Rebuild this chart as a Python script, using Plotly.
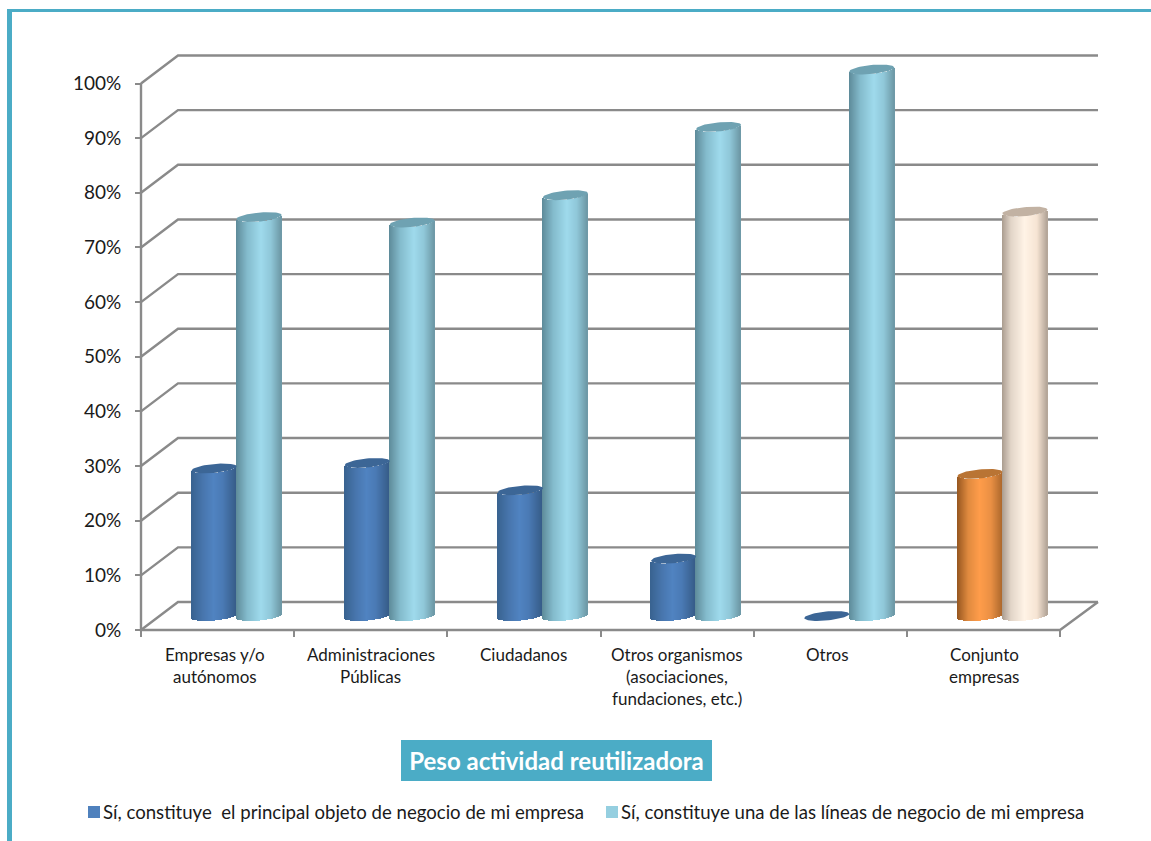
import numpy as np
import plotly.graph_objects as go

# ---------- data ----------
category_lines = [
    ["Empresas y/o", "autónomos"],
    ["Administraciones", "Públicas"],
    ["Ciudadanos"],
    ["Otros organismos", "(asociaciones,", "fundaciones, etc.)"],
    ["Otros"],
    ["Conjunto", "empresas"],
]
principal = [27, 28, 23, 10.5, 0, 26]
linea = [73, 72, 77, 89.5, 100, 74]
y_ticks = [0, 10, 20, 30, 40, 50, 60, 70, 80, 90, 100]
y_labels = [f"{v}%" for v in y_ticks]
name_principal = "Sí, constituye\u00a0 el principal objeto de negocio de mi empresa"
name_linea = "Sí, constituye una de las líneas de negocio de mi empresa"
title_text = "Peso actividad reutilizadora"

# ---------- styles ----------
W, H = 1151, 841
TEAL = "#4bacc6"
GRID = "#8a8a8a"
FONT = "Lato"
LEG_BLUE, LEG_LIGHT = "#4f81bd", "#95cfe0"
STOPS_BLUE = [(-1, "#38628f"), (-.45, "#4876ae"), (0, "#5083c1"), (.4, "#4a7ab5"), (1, "#365c88")]
STOPS_LIGHT = [(-1, "#5d8a99"), (-.5, "#84bbcc"), (.1, "#9fdaec"), (.55, "#8fc7d8"), (1, "#6d98a6")]
STOPS_ORANGE = [(-1, "#96561f"), (-.5, "#e08a3f"), (0, "#ff9c4a"), (.5, "#ea9044"), (1, "#ad682c")]
STOPS_CREAM = [(-1, "#aa9c8f"), (-.6, "#e2d5c8"), (0, "#fff3e6"), (.55, "#f6e4d3"), (1, "#b2a497")]
TOP_BLUE, TOP_LIGHT, TOP_ORANGE, TOP_CREAM = "#3c6696", "#6fa2b2", "#b97434", "#c2b2a3"
TOTAL_INDEX = len(principal) - 1
LABEL_NUDGE = [-3, 0, 0, 0, -3, 1]

# axis geometry (pixels)
X0, CAT_W = 141.0, 153.17
Y0, PX_PER_PCT = 630.0, 5.465
DEPTH_X, DEPTH_Y = 37.0, 28.0
L, R, T, B = 125, 1106, 45, 640
BAR_W = 45.0
STRIPS = 45
TILT, ELL_B = 0.09, 4.5


def px2x(p):
    return (p - X0) / CAT_W


def dy(p):
    return p / PX_PER_PCT


def mix(stops, u):
    us = [s[0] for s in stops]
    rgb = [[int(s[1][i:i + 2], 16) for s in stops] for i in (1, 3, 5)]
    return "rgb(%d,%d,%d)" % tuple(round(float(np.interp(u, us, c))) for c in rgb)


n = len(principal)
dep_x, dep_y = DEPTH_X / CAT_W, dy(DEPTH_Y)
mid_x, mid_y = (DEPTH_X / 2 + 0.5) / CAT_W, dy(14)
bw = BAR_W / CAT_W
centers = np.arange(n) + 0.5 + mid_x
right_back = px2x(1098)

fig = go.Figure()


def add_cylinders(values, offset, stops, total_stops):
    vals = np.array(values, float)
    for i in range(STRIPS):
        u = -1 + (i + .5) * 2 / STRIPS
        front = dy(TILT * BAR_W / 2 * u - ELL_B * np.sqrt(1 - u * u))
        colors = [mix(total_stops if k == TOTAL_INDEX else stops, u) for k in range(n)]
        fig.add_trace(go.Bar(
            x=centers + offset + u * bw / 2,
            y=vals,
            base=mid_y + front,
            width=bw / STRIPS * 1.35,
            marker=dict(color=colors, line=dict(width=0)),
            showlegend=False, hoverinfo="skip",
        ))


add_cylinders(principal, -bw / 2, STOPS_BLUE, STOPS_ORANGE)
add_cylinders(linea, bw / 2, STOPS_LIGHT, STOPS_CREAM)


def add_tops(values, offset, color, total_color):
    t = np.linspace(0, 2 * np.pi, 60)
    for k, v in enumerate(values):
        cu = np.cos(t)
        xs = centers[k] + offset + cu * bw / 2
        ys = mid_y + v + dy(TILT * BAR_W / 2 * cu + ELL_B * np.sin(t))
        fig.add_trace(go.Scatter(
            x=xs, y=ys, mode="lines", fill="toself",
            fillcolor=total_color if k == TOTAL_INDEX else color,
            line=dict(width=0), showlegend=False, hoverinfo="skip",
        ))


add_tops(principal, -bw / 2, TOP_BLUE, TOP_ORANGE)
add_tops(linea, bw / 2, TOP_LIGHT, TOP_CREAM)

# legend entries: native text, swatches placed tight against the text as in the reference
fig.add_trace(go.Scatter(x=[None], y=[None], mode="markers", name=name_principal,
                         marker=dict(symbol="square", size=12, color="rgba(0,0,0,0)")))
fig.add_trace(go.Scatter(x=[None], y=[None], mode="markers", name=name_linea,
                         marker=dict(symbol="square", size=12, color="rgba(0,0,0,0)")))

# 3-D walls: gridlines, floor, axis
shapes = []
line = dict(color=GRID, width=2.4)
for v in y_ticks:
    shapes.append(dict(type="path", layer="below", xref="x", yref="y", line=line,
                       path=f"M 0 {v} L {dep_x} {v + dep_y} L {right_back} {v + dep_y}"))
shapes.append(dict(type="path", layer="below", xref="x", yref="y", line=line,
                   path=f"M 0 100 L 0 0 L 6 0 L {right_back} {dep_y}"))


def px_rect(x0, y0, x1, y1, color):
    return dict(type="rect", xref="paper", yref="paper", layer="below",
                x0=(x0 - L) / (R - L), x1=(x1 - L) / (R - L),
                y0=(B - y1) / (B - T), y1=(B - y0) / (B - T),
                fillcolor=color, line=dict(width=0))


shapes.append(px_rect(7, 9, 1151, 12, TEAL))
shapes.append(px_rect(7, 9, 12, 841, TEAL))
shapes.append(px_rect(401, 740, 712, 781, TEAL))
shapes.append(px_rect(88, 806, 100, 818, LEG_BLUE))
shapes.append(px_rect(606, 806, 618, 818, LEG_LIGHT))

# category labels
annotations = []
for k, lines in enumerate(category_lines):
    for j, txt in enumerate(lines):
        annotations.append(dict(
            x=k + .5, y=0, xref="x", yref="y", text=txt, showarrow=False,
            xshift=LABEL_NUDGE[k], yshift=-(24 + 22 * j), xanchor="center", yanchor="middle",
            font=dict(family=FONT, size=17, color="#1a1a1a"),
        ))

fig.update_layout(
    width=W, height=H,
    margin=dict(l=L, r=W - R, t=T, b=H - B, pad=0, autoexpand=False),
    paper_bgcolor="white", plot_bgcolor="rgba(0,0,0,0)",
    barmode="overlay", bargap=0,
    shapes=shapes, annotations=annotations,
    title=dict(text=title_text, x=556.5 / W, y=1 - 762 / H, xanchor="center", yanchor="middle",
               font=dict(family=FONT, size=24, color="white", weight="bold")),
    xaxis=dict(range=[px2x(L), px2x(R)], anchor="free", position=(B - Y0) / (B - T),
               tickmode="array", tickvals=list(range(7)), ticktext=[""] * 7, showticklabels=False,
               ticks="outside", ticklen=6, tickwidth=2, tickcolor=GRID,
               showgrid=False, zeroline=False, showline=False),
    yaxis=dict(range=[(Y0 - B) / PX_PER_PCT, (Y0 - T) / PX_PER_PCT], anchor="free", position=(X0 - L) / (R - L),
               tickmode="array", tickvals=y_ticks, ticktext=y_labels,
               ticks="outside", ticklen=6, tickwidth=2, tickcolor=GRID, ticklabelstandoff=10,
               tickfont=dict(family=FONT, size=19, color="#1a1a1a"),
               showgrid=False, zeroline=False, showline=False),
    legend=dict(orientation="h", x=(74 - L) / (R - L), y=(B - 812) / (B - T), xanchor="left", yanchor="middle",
                bgcolor="rgba(0,0,0,0)", indentation=-11, entrywidth=484, entrywidthmode="pixels",
                font=dict(family=FONT, size=18.6, color="#1a1a1a")),
    hovermode=False,
)

fig.write_html("out.html", config=dict(displayModeBar=False),
               post_script="document.body.style.margin='0';document.documentElement.style.overflow='hidden';")
